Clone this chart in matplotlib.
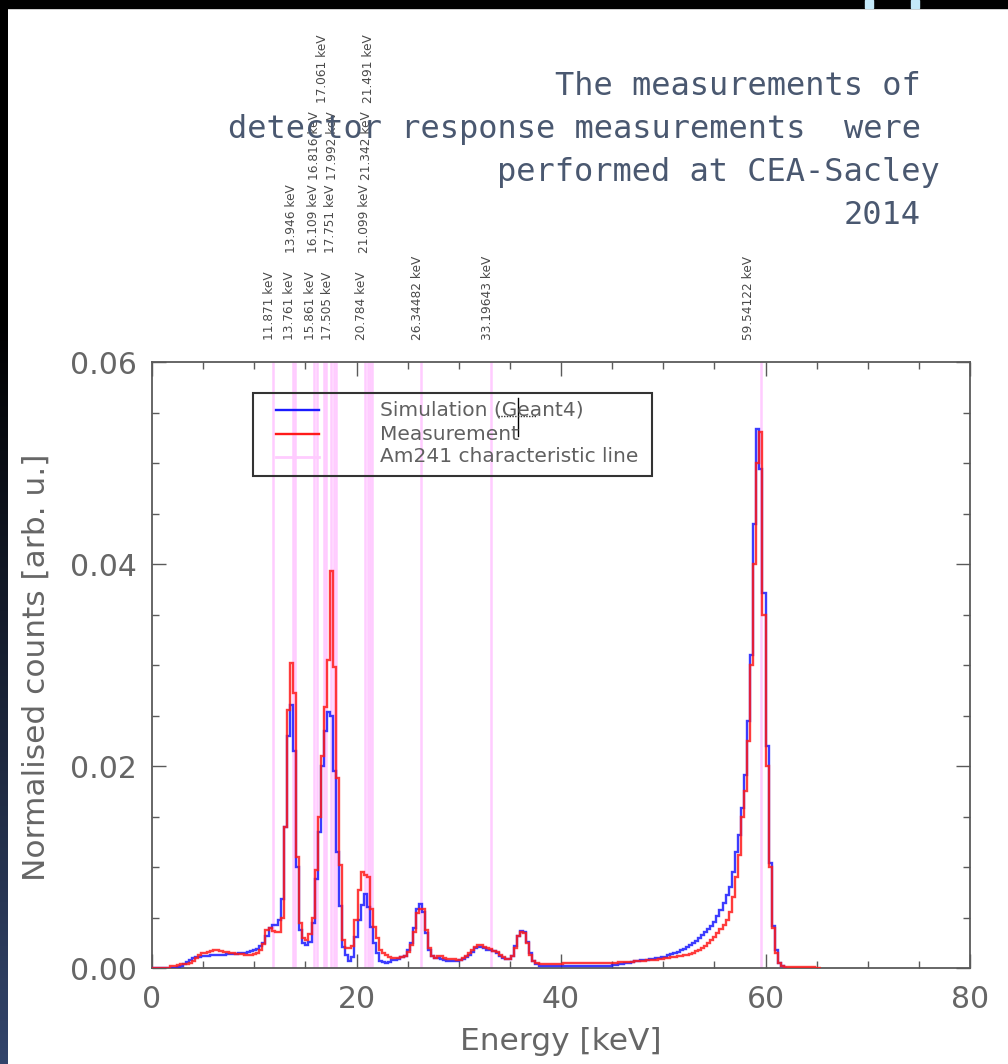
import numpy as np
import matplotlib
matplotlib.use("Agg")
import matplotlib.pyplot as plt
from matplotlib.ticker import MultipleLocator, FormatStrFormatter
from matplotlib.patches import Rectangle
from matplotlib.lines import Line2D
import matplotlib.transforms as mtransforms

# ---------------- data ----------------
bin_width = 0.3  # keV, histogram bins start at 0 keV
# counts in units of 1e-4 (normalised)
sim_counts = [
    0, 0, 0, 0, 0, 0, 0, 0, 1, 2,
    4, 6, 8, 10, 11, 11, 12, 12, 12, 13,
    13, 13, 13, 13, 14, 14, 14, 14, 15, 15,
    15, 16, 17, 18, 19, 22, 25, 32, 40, 43,
    43, 48, 68, 140, 230, 260, 215, 100, 38, 25,
    23, 26, 45, 88, 135, 200, 235, 253, 250, 195,
    115, 61, 21, 13, 7, 11, 31, 48, 62, 73,
    60, 41, 25, 15, 7, 6, 5, 6, 8, 8,
    9, 11, 12, 18, 25, 40, 58, 63, 55, 35,
    18, 12, 10, 10, 9, 8, 7, 7, 7, 7,
    8, 9, 11, 13, 16, 20, 21, 21, 20, 18,
    18, 17, 15, 12, 10, 9, 9, 12, 22, 32,
    37, 36, 26, 15, 7, 4, 2, 2, 2, 2,
    2, 2, 2, 2, 2, 2, 2, 2, 2, 2,
    2, 2, 2, 2, 2, 2, 2, 2, 2, 2,
    3, 3, 4, 4, 5, 5, 6, 7, 7, 8,
    8, 8, 9, 9, 10, 10, 11, 11, 13, 14,
    15, 16, 18, 19, 21, 23, 25, 27, 30, 33,
    36, 39, 42, 46, 51, 57, 64, 72, 80, 95,
    115, 132, 158, 191, 245, 310, 440, 534, 494, 371,
    220, 104, 42, 18, 5, 2, 0,
]
meas_counts = [
    0, 0, 0, 0, 0, 0, 2, 2, 3, 4,
    4, 4, 5, 7, 10, 13, 15, 15, 16, 17,
    18, 18, 17, 16, 16, 15, 15, 14, 14, 14,
    13, 13, 13, 14, 15, 18, 24, 38, 40, 37,
    36, 36, 50, 140, 255, 302, 272, 110, 45, 30,
    28, 34, 50, 97, 150, 210, 258, 305, 393, 298,
    188, 102, 28, 20, 20, 22, 48, 77, 95, 92,
    90, 58, 41, 30, 18, 15, 13, 11, 10, 10,
    10, 11, 12, 16, 23, 36, 54, 58, 58, 38,
    20, 12, 10, 12, 12, 10, 9, 9, 9, 8,
    8, 10, 12, 15, 18, 21, 23, 23, 21, 20,
    19, 17, 16, 13, 11, 9, 9, 12, 20, 32,
    36, 35, 25, 13, 7, 5, 4, 4, 4, 4,
    4, 4, 4, 4, 5, 5, 5, 5, 5, 5,
    5, 5, 5, 5, 5, 5, 5, 5, 5, 5,
    5, 5, 6, 6, 6, 6, 6, 7, 7, 7,
    7, 8, 8, 8, 8, 9, 9, 10, 10, 11,
    11, 12, 12, 13, 13, 14, 15, 17, 18, 20,
    22, 25, 28, 31, 35, 39, 43, 48, 55, 70,
    90, 112, 150, 175, 225, 300, 400, 500, 531, 350,
    200, 100, 40, 15, 5, 2, 1, 1, 1, 1,
    1, 1, 1, 1, 1, 1, 0, 0,
]
line_energies = [11.871, 13.761, 13.946, 15.861, 16.109, 16.816, 17.061,
                 17.505, 17.751, 17.992, 20.784, 21.099, 21.342, 21.491,
                 26.34482, 33.19643, 59.54122]
line_labels = [f"{e} keV" for e in line_energies]
label_row = [0, 0, 1, 0, 1, 2, 3, 0, 1, 2, 0, 1, 2, 3, 0, 0, 0]

legend_labels = ["Simulation (Geant4)", "Measurement", "Am241 characteristic line"]
title_lines = ["The measurements of",
               "detector response measurements  were",
               "performed at CEA-Sacley",
               "2014"]
xticks = [0, 20, 40, 60, 80]
yticks = [0.00, 0.02, 0.04, 0.06]

# ---------------- figure ----------------
W, H = 1008, 1064
fig = plt.figure(figsize=(W / 100, H / 100), dpi=100)
fig.patch.set_facecolor("white")

def fx(px):
    return px / W

def fy(py):
    return 1 - py / H

grey = "#5a5a5a"
ax = fig.add_axes([fx(152), fy(968), (970 - 152) / W, (968 - 362) / H])

sim = np.array(sim_counts) * 1e-4
meas = np.array(meas_counts) * 1e-4
sim_edges = np.arange(len(sim) + 1) * bin_width
meas_edges = np.arange(len(meas) + 1) * bin_width

for e in line_energies:
    ax.axvline(e, color="#ffccff", lw=1.8, zorder=1)

ax.stairs(sim, sim_edges, color="#1a1aff", lw=1.7, alpha=0.85, zorder=3, baseline=None)
ax.stairs(meas, meas_edges, color="#ff1a1a", lw=1.7, alpha=0.85, zorder=4, baseline=None)

ax.set_xlim(0, 80)
ax.set_ylim(0, 0.06)
ax.set_xticks(xticks)
ax.set_yticks(yticks)
ax.xaxis.set_minor_locator(MultipleLocator(5))
ax.yaxis.set_minor_locator(MultipleLocator(0.005))
ax.yaxis.set_major_formatter(FormatStrFormatter("%.2f"))
ax.tick_params(which="both", direction="in", top=True, right=True,
               color=grey, width=1.0)
ax.tick_params(which="major", length=10)
ax.tick_params(which="minor", length=5)
ax.tick_params(axis="x", labelsize=21.5, labelcolor="#666666", pad=12)
ax.tick_params(axis="y", labelsize=21.5, labelcolor="#666666", pad=11)
for sp in ax.spines.values():
    sp.set_color(grey)
    sp.set_linewidth(1.3)

# line labels above the axes
trans = mtransforms.blended_transform_factory(ax.transData, ax.transAxes)
row_y = [1.036, 1.180, 1.300, 1.427]
label_shift = {16.816: -0.6, 59.54122: -0.9}
for e, lab, r in zip(line_energies, line_labels, label_row):
    ax.text(e + label_shift.get(e, 0.0), row_y[r], lab, transform=trans,
            rotation=90, rotation_mode="anchor", ha="left", va="baseline",
            fontsize=8.7, color="#4a4a4a", clip_on=False)

# axis labels
fig.text(fx(36), fy(667), "Normalised counts [arb. u.]", rotation=90,
         ha="center", va="center", fontsize=22.5, color="#666666")
fig.text(fx(561), fy(1041), "Energy [keV]", ha="center", va="center",
         fontsize=22.5, color="#666666")

# legend (drawn manually to match layout)
fig.add_artist(Rectangle((fx(253), fy(476)), (652 - 253) / W, (476 - 393) / H,
                         transform=fig.transFigure, fill=False,
                         edgecolor="#333333", lw=1.5))
leg_colors = ["#1a1aff", "#ff1a1a", "#ffccff"]
leg_y = [410, 434, 457]
for lab, c, yy in zip(legend_labels, leg_colors, leg_y):
    fig.add_artist(Line2D([fx(276), fx(319)], [fy(yy), fy(yy)],
                          transform=fig.transFigure, color=c,
                          lw=2.0 if c == "#ffccff" else 1.7))
    fig.text(fx(380), fy(yy), lab, ha="left", va="center", fontsize=14.5,
             color="#606060")

# mouse cursor artefact
fig.add_artist(Line2D([fx(518), fx(518)], [fy(398), fy(436)],
                      transform=fig.transFigure, color="black", lw=1.0))
fig.add_artist(Line2D([fx(498), fx(537)], [fy(416), fy(416)],
                      transform=fig.transFigure, color="#333333", lw=1.0,
                      linestyle=(0, (1, 1))))

# title text block
title_col = "#4a5870"
title_right = [920.7, 920.7, 940.0, 920.7]
title_base = [95, 138, 181, 224]
for t, xr, yb in zip(title_lines, title_right, title_base):
    fig.text(fx(xr), fy(yb), t, ha="right", va="baseline",
             family="DejaVu Sans Mono", fontsize=23, color=title_col)

# slide chrome: top black band and left gradient strip
fig.add_artist(Rectangle((0, fy(8)), 1, 8 / H, transform=fig.transFigure,
                         color="black", zorder=10))
for x0, x1 in [(865, 873), (911, 919)]:
    fig.add_artist(Rectangle((fx(x0), fy(8)), (x1 - x0) / W, 8 / H,
                             transform=fig.transFigure, color="#c4e8f8",
                             zorder=11))
gax = fig.add_axes([0, 0, fx(8), 1])
tt = np.linspace(0, 1, 512)
mix = np.clip((tt - 0.3) / 0.7, 0, 1)
navy = np.array([0.20, 0.27, 0.42])
img = (mix[:, None] * navy[None, :])[:, None, :]
gax.imshow(img, aspect="auto", extent=[0, 1, 1, 0])
gax.axis("off")

fig.savefig("out.png", dpi=100)
